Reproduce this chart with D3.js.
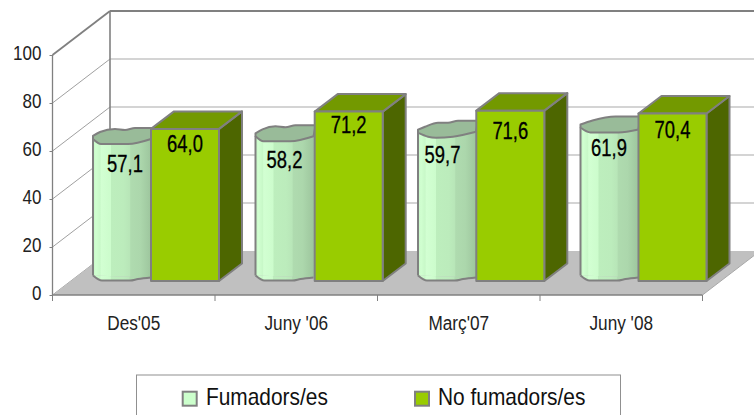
<!DOCTYPE html>
<html><head><meta charset="utf-8">
<script src="https://cdn.jsdelivr.net/npm/d3@7"></script>
<style>html,body{margin:0;padding:0;background:#fff;overflow:hidden}svg{display:block}
text{font-family:"Liberation Sans",Arial,sans-serif}</style></head><body>
<svg id="c" width="754" height="415"></svg>
<script>
const categories = ["Des'05","Juny '06","Març'07","Juny '08"];
const fumadors = [57.1,58.2,59.7,61.9];
const noFumadors = [64.0,71.2,71.6,70.4];
const yTicks = [0,20,40,60,80,100];
const seriesNames = ["Fumadors/es","No fumadors/es"];
const fmt = v => v.toFixed(1).replace(".",",");

const svg = d3.select("#c");
const G="#808080";
const dx=57.5, dy=-44;
const x = d3.scaleBand().domain(categories).range([52.5,702.5]);
const y = d3.scaleLinear().domain([0,100]).range([295,55]);
const barY = d3.scaleLinear().domain([0,100]).range([282.5,42.5]);
const cylY = d3.scaleLinear().domain([0,100]).range([276,36]);

// squeeze real text horizontally to imitate the narrow hinted face
function squeeze(sel,r){ sel.each(function(){
  const n=this.getComputedTextLength();
  d3.select(this).attr("textLength",n*r).attr("lengthAdjust","spacingAndGlyphs");
});}

const stops=[[0,"#c6f6c6"],[.05,"#d0ffd0"],[.12,"#c8f8c8"],[.14,"#d2ffd2"],[.3,"#ccfccc"],[.31,"#bdeebd"],[.52,"#bcecbc"],[.62,"#b8e6b8"],[.64,"#afdbaf"],[.8,"#acd7ac"],[1,"#9cc49c"]];
const grad=svg.append("defs").append("linearGradient").attr("id","cyl");
stops.forEach(s=>grad.append("stop").attr("offset",s[0]).attr("stop-color",s[1]));

// walls
const wall=svg.append("g").attr("fill","none").attr("stroke",G);
yTicks.forEach(t=>{
  wall.append("path").attr("d",`M52.5,${y(t)}L${52.5+dx},${y(t)+dy}`).attr("stroke-width",t===100?1.8:1).attr("stroke",t===100?G:"#a0a0a0");
  if(t>0) wall.append("path").attr("d",`M${52.5+dx},${y(t)+dy}H754`).attr("stroke-width",t===100?2:1.2).attr("stroke",t===100?G:"#aaa");
});
wall.append("path").attr("d",`M${52.5+dx},${y(100)+dy}V${y(0)+dy}`).attr("stroke-width",1.6);

// floor
svg.append("path").attr("fill","#c0c0c0")
  .attr("d",`M52.5,295L${52.5+dx},${295+dy}H${702.5+dx}L702.5,295Z`);
svg.append("path").attr("fill","none").attr("stroke",G).attr("stroke-width",1.4).attr("d","M52.5,295H702.5");
svg.append("path").attr("fill","none").attr("stroke","#a8a8a8").attr("d",`M702.5,295L${702.5+dx},${295+dy}`);

// axes
const yAxis=svg.append("g").attr("transform","translate(52.5,0)")
  .call(d3.axisLeft(y).tickValues(yTicks).tickSize(3).tickPadding(8));
const xAxis=svg.append("g").attr("transform","translate(0,295)")
  .call(d3.axisBottom(x).tickSize(0).tickPadding(21));
yAxis.select(".domain").attr("stroke",G).attr("stroke-width",1.3).attr("d",`M0,${y(100)}V${y(0)}`);
yAxis.selectAll("line").attr("stroke",G);
yAxis.selectAll("text").attr("font-size",21).attr("fill","#222").attr("dy","0.2em").attr("font-family",'"Liberation Sans"').call(squeeze,.81);
xAxis.select(".domain").remove();
xAxis.selectAll("text").attr("font-size",20).attr("fill","#222").attr("font-family",'"Liberation Sans"').call(squeeze,.86);
x.domain().concat(["end"]).forEach((c,i)=>{
  const px=52.5+i*x.bandwidth();
  svg.append("line").attr("x1",px).attr("x2",px).attr("y1",295).attr("y2",301).attr("stroke",G);
});

// cylinder rim outlines (offsets from the rim anchor): dx, dy
const rimUpper=[
 [[0,-3],[7,-7],[22,-10],[32,-9],[42,-11],[60,-11]],
 [[0,-3],[7,-7],[20,-10],[30,-9],[40,-11],[60,-11]],
 [[0,-3],[7,-6],[20,-10],[30,-10],[40,-12],[60,-12]],
 [[0,-3],[12,-7],[35,-11],[60,-11]]];
const rimLower=[
 [[0,0],[8,5],[35,5],[58,0]],
 [[0,0],[8,5],[35,5],[58,0]],
 [[0,0],[10,4],[18,5],[35,4],[58,-1]],
 [[0,0],[10,5],[38,5],[58,2]]];
const botLower=[[0,0],[9,5],[37,5],[45,3.5],[58,2]];
const curve=d3.line().curve(d3.curveMonotoneX);
const cylOffset=40.5, cylWidth=59, barOffset=98.5, barWidth=68, ox=23, oy=-17.5;
const barNudge=[0,1.2,0.3,0];
const cylLabelDx=[32,29,24.5,28.5], cylLabelDy=[33.5,32,30.5,28.5];
const barLabelDy=[23,21.5,28.5,24.5];

categories.forEach((c,i)=>{
  const g=svg.append("g");
  const x0=x(c)+cylOffset, cy=cylY(fumadors[i]);
  const abs=(pts,yy)=>pts.map(p=>[x0+p[0],yy+p[1]]);
  const up=abs(rimUpper[i],cy), lo=abs(rimLower[i],cy), bt=abs(botLower,275.5);
  const cont=d=>d.replace(/^M[^CL]*/,"");
  g.append("path").attr("d",`M${x0},${cy}L${x0},275.5L${x0+cylWidth},${277.5}L${x0+cylWidth},${cy}Z`).attr("fill","url(#cyl)").attr("stroke","none");
  g.append("path").attr("d",curve(bt)).attr("fill","url(#cyl)").attr("stroke",G).attr("stroke-width",2);
  g.append("path").attr("d",`M${x0},${cy}V275.5`).attr("stroke",G).attr("stroke-width",2);
  g.append("path").attr("d",curve(up)+`L${lo[lo.length-1]}`+cont(curve(lo.slice().reverse()))+"Z")
    .attr("fill","#99bb99").attr("stroke",G).attr("stroke-width",2).attr("stroke-linejoin","round");

  const bx=x(c)+barOffset+barNudge[i], by=barY(noFumadors[i]), b0=281;
  const st=p=>p.attr("stroke",G).attr("stroke-width",2).attr("stroke-linejoin","round");
  st(g.append("path").attr("fill","#4d6600").attr("d",`M${bx+barWidth},${by}l${ox},${oy}V${b0+oy}L${bx+barWidth},${b0}Z`));
  st(g.append("path").attr("fill","#739900").attr("d",`M${bx},${by}l${ox},${oy}h${barWidth}l${-ox},${-oy}Z`));
  st(g.append("rect").attr("fill","#99cc00").attr("x",bx).attr("y",by).attr("width",barWidth).attr("height",b0-by));

  g.append("text").attr("x",x0+cylLabelDx[i]).attr("y",cy+cylLabelDy[i]).attr("text-anchor","middle")
    .attr("font-size",23).attr("fill","#000").attr("stroke","#000").attr("stroke-width",.3).text(fmt(fumadors[i])).call(squeeze,.8);
  g.append("text").attr("x",bx+barWidth/2).attr("y",by+barLabelDy[i]).attr("text-anchor","middle")
    .attr("font-size",23).attr("fill","#000").attr("stroke","#000").attr("stroke-width",.3).text(fmt(noFumadors[i])).call(squeeze,.8);
});

// legend
const lg=svg.append("g");
lg.append("rect").attr("x",136.5).attr("y",375).attr("width",484).attr("height",60).attr("fill","#fff").attr("stroke","#909090");
[[182.7,206],[415,438]].forEach((p,i)=>{
  lg.append("rect").attr("x",p[0]).attr("y",391.7).attr("width",14).attr("height",14)
    .attr("fill",["#ccffcc","#99cc00"][i]).attr("stroke",G).attr("stroke-width",2);
  lg.append("text").attr("x",p[1]).attr("y",405).attr("font-size",24).attr("fill","#111").attr("font-family",'"Liberation Sans"').text(seriesNames[i]).call(squeeze,.87);
});
</script></body></html>
